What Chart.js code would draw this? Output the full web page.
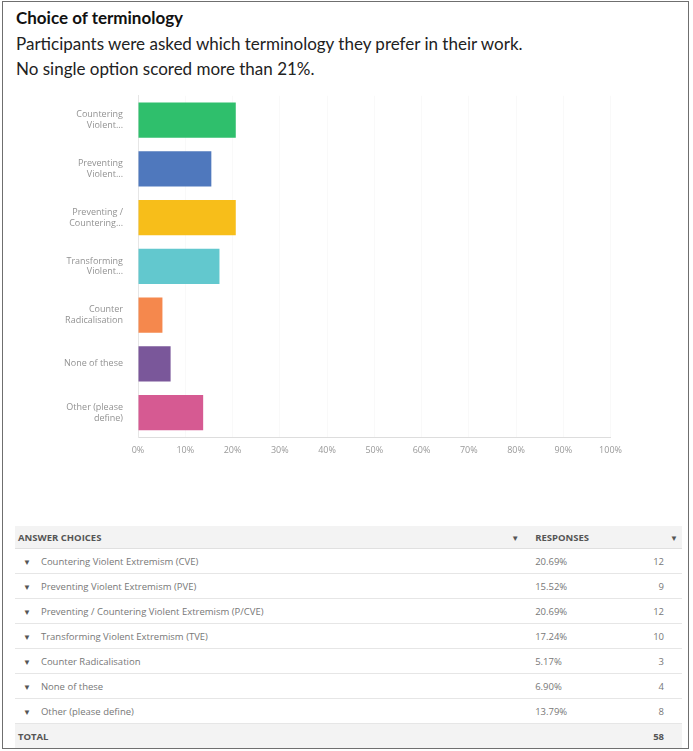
<!DOCTYPE html>
<html><head><meta charset="utf-8">
<script src="https://cdn.jsdelivr.net/npm/chart.js@4"></script>
<style>
body{margin:0;background:#fff;font-family:Lato,sans-serif;}
#frame{position:absolute;left:2px;top:1px;width:685px;height:746px;border:1.5px solid #6f6f6f;}
#t1{position:absolute;left:16px;top:7px;font:bold 17px Lato;color:#111;}
#t2{position:absolute;left:16px;top:31px;font:17px/25px Lato;color:#222;}
#cw{position:absolute;left:10px;top:78px;width:620px;height:392px;}
table{position:absolute;left:15px;top:526px;width:667px;border-collapse:collapse;font:9.5px "Open Sans",sans-serif;color:#777;}
td{height:24px;border-bottom:1px solid #e6e6e6;padding:0;}
tr.h td{background:#f3f3f3;font-weight:bold;color:#555;height:22px;border-bottom:1px solid #e0e0e0;}
tr.tot td{background:#f3f3f3;font-weight:bold;color:#555;height:24px;border-bottom:none;}
.ar{font-size:8px;color:#555;}
</style></head><body>
<div id="frame"></div>
<div id="t1">Choice of terminology</div>
<div id="t2">Participants were asked which terminology they prefer in their work.<br>No single option scored more than 21%.</div>
<div id="cw"><canvas id="c"></canvas></div>
<table id="tb"></table>
<script>
const shortLabels = [["Countering","Violent..."],["Preventing","Violent..."],["Preventing /","Countering..."],["Transforming","Violent..."],["Counter","Radicalisation"],["None of these"],["Other (please","define)"]];
const fullLabels = ["Countering Violent Extremism (CVE)","Preventing Violent Extremism (PVE)","Preventing / Countering Violent Extremism (P/CVE)","Transforming Violent Extremism (TVE)","Counter Radicalisation","None of these","Other (please define)"];
const percents = [20.69,15.52,20.69,17.24,5.17,6.90,13.79];
const counts = [12,9,12,10,3,4,8];
const total = 58;
const colors = ["#2fbf6c","#4f78bd","#f7be1a","#62c8ce","#f5884d","#7a579a","#d65a92"];
const xTicks = [0,10,20,30,40,50,60,70,80,90,100];

new Chart(document.getElementById('c'),{
  type:'bar',
  data:{labels:shortLabels,datasets:[{data:percents,backgroundColor:colors,barPercentage:0.72,categoryPercentage:1}]},
  options:{
    indexAxis:'y',responsive:true,maintainAspectRatio:false,animation:false,
    layout:{padding:{top:6,right:10}},
    plugins:{legend:{display:false},tooltip:{enabled:false}},
    scales:{
      x:{min:0,max:100,afterBuildTicks:s=>{s.ticks=xTicks.map(v=>({value:v}));},
        ticks:{callback:v=>v+'%',color:'#999',font:{family:'Open Sans',size:9},maxRotation:0,padding:8},
        grid:{color:'#f9f9f9',drawTicks:false},border:{color:'#ddd'},
        afterFit:s=>{s.height=33;}},
      y:{ticks:{color:'#929292',font:{family:'Open Sans',size:9},padding:7},
        grid:{display:false},border:{color:'#e6e6e6'},
        afterFit:s=>{s.width=128;}}
    }
  }
});

const tb=document.getElementById('tb');
let h='<tr class="h"><td style="padding-left:3px">ANSWER CHOICES</td><td class="ar" style="width:24px">&#9660;</td><td style="width:118px">RESPONSES</td><td class="ar" style="width:12px;text-align:right;padding-right:4px">&#9660;</td></tr>';
fullLabels.forEach((l,i)=>{
  h+='<tr><td style="padding-left:8px"><span class="ar" style="margin-right:10px">&#9660;</span>'+l+'</td><td></td><td>'+percents[i].toFixed(2)+'%</td><td style="text-align:right;padding-right:18px">'+counts[i]+'</td></tr>';
});
h+='<tr class="tot"><td style="padding-left:3px">TOTAL</td><td></td><td></td><td style="text-align:right;padding-right:18px">'+total+'</td></tr>';
tb.innerHTML=h;
</script>
</body></html>
